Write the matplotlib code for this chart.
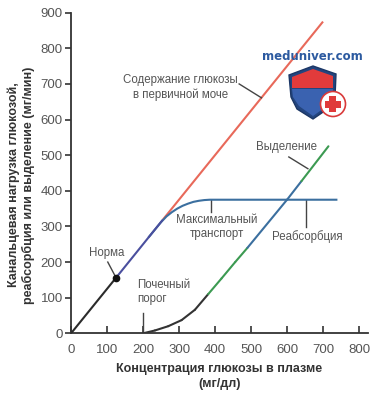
import matplotlib
matplotlib.use("Agg")
import matplotlib.pyplot as plt
from matplotlib.patches import Polygon, Circle, Rectangle
from matplotlib import font_manager

# ---------------- data ----------------
load_x = [0, 125, 255, 700]
load_y = [0, 156, 319, 875]
load_colors = ["#2b2b2b", "#4a4f9e", "#e8695a"]

reab_x = [215, 250, 265, 280, 295, 310, 325, 340, 355, 370, 385, 400, 740]
reab_y = [269, 312, 328, 340, 350, 358, 364, 369, 372, 374, 375, 375, 375]

excr_x = [200, 233, 270, 307, 344, 381, 418, 456, 490, 600, 640, 715]
excr_y = [0, 8, 20, 37, 66, 110, 154, 200, 240, 375, 427, 525]
excr_colors = ["#333333"] * 5 + ["#3c9a52", "#3c9a52", "#3c9a52",
                                 "#3b6f9f", "#3b6f9f", "#3c9a52"]

norm_x, norm_y = 125, 156

x_ticks = [0, 100, 200, 300, 400, 500, 600, 700, 800]
y_ticks = [0, 100, 200, 300, 400, 500, 600, 700, 800, 900]

# ---------------- fonts ----------------
avail = {f.name for f in font_manager.fontManager.ttflist}
fam = ["Liberation Sans Narrow", "Liberation Sans", "DejaVu Sans"]
fam = [f for f in fam if f in avail] or ["DejaVu Sans"]
plt.rcParams["font.family"] = fam

fig = plt.figure(figsize=(3.74, 4.0), dpi=100)
ax = fig.add_axes([0.19, 0.1667, 0.794, 0.8016])
ax.set_xlim(0, 825)
ax.set_ylim(0, 900)

for s in ["top", "right"]:
    ax.spines[s].set_visible(False)
for s in ["left", "bottom"]:
    ax.spines[s].set_color("#333333")
    ax.spines[s].set_linewidth(1.3)
ax.spines["left"].set_bounds(0, 900)

ax.set_xticks(x_ticks)
ax.set_yticks(y_ticks)
ax.tick_params(axis="x", direction="in", length=5, width=1.2, color="#333333",
               labelsize=9.5, labelcolor="#555555", pad=8)
ax.tick_params(axis="y", direction="out", length=4, width=1.2, color="#333333",
               labelsize=9.5, labelcolor="#555555", pad=2)

lw = 1.5
# reabsorption
ax.plot(reab_x, reab_y, color="#3b6f9f", lw=lw, solid_capstyle="butt", zorder=3)
# filtered load
for i in range(len(load_x) - 1):
    ax.plot(load_x[i:i + 2], load_y[i:i + 2], color=load_colors[i], lw=lw,
            solid_capstyle="butt", zorder=4 if i < 2 else 2)
# excretion
for i in range(len(excr_x) - 1):
    ax.plot(excr_x[i:i + 2], excr_y[i:i + 2], color=excr_colors[i], lw=lw,
            solid_capstyle="round", zorder=3)

ax.plot([norm_x], [norm_y], "o", color="#111111", ms=4.5, zorder=5)

tc = "#555555"
fs = 8.3
lc = "#444444"
ax.text(305, 690, "Содержание глюкозы\nв первичной моче", ha="center", va="center",
        fontsize=fs, color=tc, linespacing=1.25)
ax.plot([467, 529], [700, 661], color=lc, lw=1)

ax.text(598, 522, "Выделение", ha="center", va="center", fontsize=fs, color=tc)
ax.plot([605, 658], [495, 462], color=lc, lw=1)

ax.text(405, 298, "Максимальный\nтранспорт", ha="center", va="center",
        fontsize=fs, color=tc, linespacing=1.25)
ax.plot([389, 389], [375, 340], color=lc, lw=1)

ax.text(655, 272, "Реабсорбция", ha="center", va="center", fontsize=fs, color=tc)
ax.plot([653, 653], [375, 298], color=lc, lw=1)

ax.text(100, 225, "Норма", ha="center", va="center", fontsize=fs, color=tc)
ax.plot([102, 125], [200, 156], color=lc, lw=1)

ax.text(183, 116, "Почечный\nпорог", ha="left", va="center", fontsize=fs, color=tc,
        linespacing=1.25)
ax.plot([200, 200], [0, 58], color=lc, lw=1)

ax.set_xlabel("Концентрация глюкозы в плазме\n(мг/дл)", fontsize=9, fontweight="bold",
              color="#333333", labelpad=5, linespacing=1.3)
ax.set_ylabel("Канальцевая нагрузка глюкозой,\nреабсорбция или выделение (мг/мин)",
              fontsize=9, fontweight="bold", color="#333333", linespacing=1.25)
ax.yaxis.set_label_coords(-0.12, 0.463)

# ---------------- watermark logo ----------------
ov = fig.add_axes([0, 0, 1, 1], zorder=10)
ov.set_xlim(0, 374)
ov.set_ylim(400, 0)
ov.axis("off")
ov.patch.set_alpha(0)
ov.text(312, 57, "meduniver.com", ha="center", va="center", fontsize=8.5,
        fontweight="bold", color="#2c5aa0", family=["DejaVu Sans"])
outer = [(289, 75), (313, 66), (336, 74), (335, 97), (329, 108), (313, 119),
         (297, 109), (291, 97)]
ov.add_patch(Polygon(outer, closed=True, fc="#23457f", ec="#1c3766", lw=1))
inner_red = [(292, 77), (313, 69), (333, 76), (333, 88), (292, 88)]
ov.add_patch(Polygon(inner_red, closed=True, fc="#e23b3b", ec="none"))
inner_blue = [(292, 89), (333, 89), (332, 97), (327, 106), (313, 116), (299, 106), (293, 97)]
ov.add_patch(Polygon(inner_blue, closed=True, fc="#3a62b0", ec="none"))
ov.add_patch(Circle((333, 104), 12.5, fc="white", ec="#d93a3a", lw=1.2))
ov.add_patch(Rectangle((329.5, 96), 7, 16, fc="#e03a3a", ec="none"))
ov.add_patch(Rectangle((325, 100.5), 16, 7, fc="#e03a3a", ec="none"))

fig.savefig("out.png", dpi=100)
